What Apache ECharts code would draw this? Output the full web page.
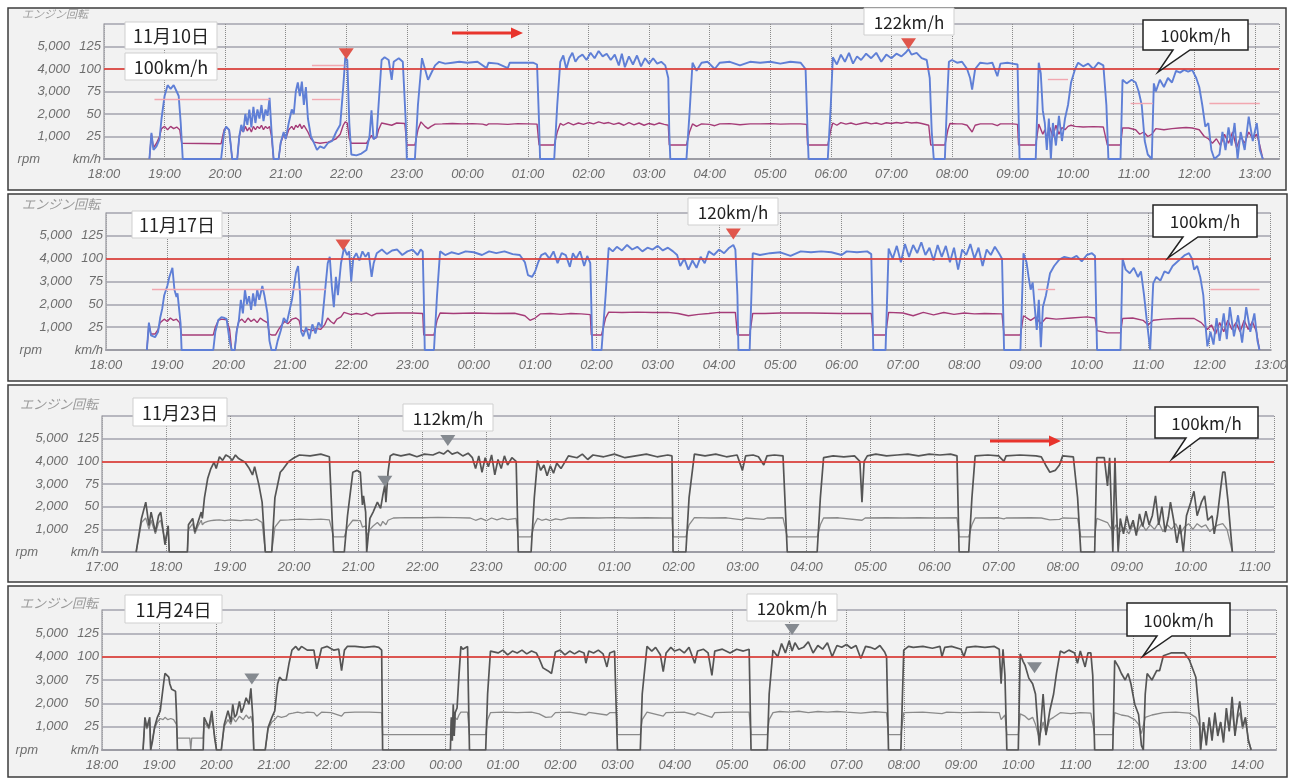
<!DOCTYPE html>
<html><head><meta charset="utf-8">
<script src="https://cdn.jsdelivr.net/npm/echarts/dist/echarts.min.js"></script>
<style>html,body{margin:0;padding:0;background:#fff}#c{width:1290px;height:778px}</style>
</head><body><div id="c"></div>
<script>
// ---------- DATA (time "HH:MM", km/h or rpm) ----------
const dates = ['11月10日', '11月17日', '11月23日', '11月24日'];
const startHours = [18, 18, 17, 18];
const endHours = [37.4, 37, 35.3, 38.5];
const kmhTicks = [0, 25, 50, 75, 100, 125, 150];
const rpmTicks = [0, 1000, 2000, 3000, 4000, 5000, 6000];
const limitSpeed = 100;

const sp1 = [['18:45',0],['18:47',29],['18:49',10],['18:52',14],['18:55',22],['18:57',45],['19:00',70],['19:03',82],['19:06',78],['19:09',82],['19:12',75],['19:14',70],['19:16',40],['19:18',0],
['19:56',0],['19:59',30],['20:01',36],['20:04',32],['20:07',0],['20:12',0],['20:14',25],['20:16',38],['20:18',30],['20:20',50],['20:22',38],['20:24',55],['20:26',35],['20:28',58],['20:30',40],['20:32',55],['20:34',45],['20:36',60],['20:38',42],['20:40',55],['20:42',48],['20:44',68],['20:46',30],['20:48',0],
['20:53',0],['20:55',18],['20:58',30],['21:00',22],['21:03',40],['21:06',55],['21:08',50],['21:10',75],['21:12',85],['21:14',70],['21:16',86],['21:18',60],['21:20',80],['21:22',45],['21:25',25],['21:28',18],['21:31',10],['21:34',14],['21:38',12],['21:42',18],['21:46',20],['21:50',30],['21:54',38],['21:57',80],['21:59',113],['22:01',110],['22:03',40],['22:05',5],['22:10',4],['22:15',6],['22:20',10],['22:23',25],['22:25',54],['22:27',22],['22:30',25],['22:32',60],['22:35',110],['22:38',113],['22:42',110],['22:45',88],['22:47',108],['22:52',112],['22:56',108],['22:59',40],['23:00',0],
['23:08',0],['23:11',60],['23:15',112],['23:18',100],['23:21',88],['23:24',95],['23:28',104],['23:32',108],['23:38',106],['23:45',107],['23:52',108],['00:00',107],['00:10',108],['00:19',101],['00:21',107],['00:30',106],['00:40',101],['00:42',107],['00:50',107],['00:57',107],['01:05',107],['01:09',105],['01:11',40],['01:12',0],
['01:26',0],['01:29',60],['01:32',108],['01:35',115],['01:38',100],['01:41',112],['01:44',118],['01:47',108],['01:50',113],['01:54',116],['01:58',110],['02:02',118],['02:06',112],['02:10',120],['02:14',114],['02:18',117],['02:22',110],['02:26',116],['02:30',104],['02:33',117],['02:36',102],['02:40',114],['02:44',105],['02:48',115],['02:52',103],['02:56',112],['03:00',106],['03:04',112],['03:08',106],['03:12',108],['03:16',104],['03:19',90],['03:20',30],['03:21',0],
['03:37',0],['03:40',50],['03:43',107],['03:47',98],['03:52',107],['03:58',108],['04:05',100],['04:10',107],['04:20',108],['04:30',104],['04:40',108],['04:50',107],['05:00',108],['05:10',106],['05:20',108],['05:30',107],['05:35',100],['05:37',30],['05:38',0],
['05:57',0],['06:00',60],['06:02',113],['06:06',105],['06:10',116],['06:14',108],['06:18',118],['06:22',106],['06:26',114],['06:30',110],['06:35',117],['06:40',112],['06:45',118],['06:50',108],['06:55',116],['07:00',112],['07:05',117],['07:10',114],['07:14',118],['07:17',122],['07:20',116],['07:25',118],['07:30',112],['07:35',110],['07:38',90],['07:40',30],['07:42',0],
['07:53',0],['07:55',60],['07:57',108],['08:00',110],['08:05',107],['08:10',108],['08:15',100],['08:18',90],['08:20',77],['08:23',100],['08:28',107],['08:35',106],['08:40',107],['08:45',92],['08:48',106],['08:55',107],['09:00',106],['09:05',105],['09:06',50],['09:07',0],
['09:23',0],['09:26',107],['09:28',95],['09:30',54],['09:32',40],['09:34',10],['09:36',45],['09:38',0],['09:40',40],['09:43',15],['09:46',48],['09:49',20],['09:52',45],['09:55',60],['09:58',85],['10:02',100],['10:05',107],['10:10',103],['10:15',106],['10:20',100],['10:25',107],['10:30',104],['10:33',60],['10:35',0],
['10:47',0],['10:49',88],['10:53',84],['10:58',88],['11:02',85],['11:05',75],['11:08',60],['11:11',20],['11:14',5],['11:18',0],['11:20',84],['11:22',75],['11:26',88],['11:30',80],['11:34',90],['11:38',85],['11:42',98],['11:46',96],['11:50',99],['11:54',97],['11:58',99],['12:02',90],['12:05',80],['12:08',60],['12:11',36],['12:14',40],['12:17',10],['12:20',0],['12:25',5],['12:28',30],['12:31',10],['12:34',35],['12:37',15],['12:40',40],['12:43',0],['12:46',30],['12:50',10],['12:54',47],['12:58',20],['13:02',40],['13:05',10],['13:08',0]];

const rpm1 = [['18:45',0],['18:47',1100],['18:49',500],['18:52',700],['18:55',1000],['18:57',1350],['19:00',1450],['19:03',1300],['19:06',1450],['19:09',1350],['19:12',1420],['19:15',1300],['19:17',700],['19:56',680],['19:59',1300],['20:01',1420],['20:04',1300],['20:07',0],['20:12',0],['20:14',1000],['20:16',1350],['20:18',1200],['20:20',1450],['20:22',1250],['20:24',1400],['20:26',1200],['20:28',1450],['20:30',1300],['20:32',1450],['20:34',1350],['20:36',1500],['20:38',1300],['20:40',1450],['20:42',1350],['20:44',1450],['20:46',1000],['20:48',0],
['20:53',0],['20:55',700],['20:58',1100],['21:00',900],['21:03',1300],['21:06',1450],['21:08',1300],['21:10',1500],['21:12',1400],['21:14',1550],['21:16',1350],['21:18',1500],['21:20',1350],['21:22',1200],['21:25',900],['21:28',750],['21:34',700],['21:42',750],['21:50',900],['21:54',1100],['21:57',1500],['21:59',1650],['22:01',1600],['22:03',900],['22:05',700],['22:20',700],['22:23',900],['22:25',1050],['22:27',900],['22:30',950],['22:32',1300],['22:35',1600],['22:45',1500],['22:50',1600],['22:58',1580],['23:00',620],
['23:08',620],['23:11',1300],['23:14',1650],['23:18',1450],['23:21',1350],['23:24',1450],['23:28',1550],['23:35',1560],['23:45',1580],['23:55',1560],['00:05',1570],['00:15',1550],['00:19',1500],['00:21',1560],['00:30',1560],['00:40',1540],['00:50',1570],['01:00',1560],['01:09',1550],['01:11',620],
['01:26',620],['01:29',1200],['01:32',1580],['01:35',1500],['01:40',1620],['01:45',1520],['01:50',1600],['01:55',1540],['02:00',1620],['02:05',1560],['02:10',1650],['02:15',1580],['02:20',1620],['02:25',1540],['02:30',1600],['02:35',1500],['02:40',1620],['02:45',1520],['02:50',1600],['02:55',1500],['03:00',1580],['03:05',1520],['03:10',1600],['03:15',1540],['03:19',1500],['03:20',620],
['03:37',620],['03:40',1200],['03:43',1560],['03:47',1450],['03:52',1560],['04:00',1540],['04:05',1480],['04:10',1560],['04:20',1570],['04:30',1520],['04:40',1560],['04:50',1560],['05:00',1570],['05:10',1550],['05:20',1560],['05:30',1560],['05:36',1540],['05:37',620],
['05:57',620],['06:00',1300],['06:02',1600],['06:06',1500],['06:10',1620],['06:15',1550],['06:20',1600],['06:25',1530],['06:30',1580],['06:35',1620],['06:40',1560],['06:45',1600],['06:50',1540],['06:55',1610],['07:00',1580],['07:05',1620],['07:10',1590],['07:15',1640],['07:20',1600],['07:25',1620],['07:30',1580],['07:37',1500],['07:39',620],
['07:53',620],['07:56',1300],['07:58',1580],['08:05',1560],['08:10',1560],['08:15',1500],['08:20',1200],['08:23',1500],['08:28',1560],['08:40',1560],['08:45',1480],['08:48',1560],['09:00',1560],['09:05',1540],['09:06',620],
['09:23',620],['09:26',1550],['09:30',1100],['09:32',1300],['09:34',900],['09:37',1400],['09:40',1000],['09:43',1500],['09:46',1100],['09:49',1400],['09:52',1300],['09:55',1450],['09:58',1500],['10:02',1450],['10:10',1420],['10:20',1440],['10:30',1420],['10:34',620],
['10:47',620],['10:49',1380],['10:55',1380],['11:02',1300],['11:06',1100],['11:10',1200],['11:14',1000],['11:18',1100],['11:22',1350],['11:30',1300],['11:38',1350],['11:45',1380],['11:52',1400],['11:58',1380],['12:05',1300],['12:10',1000],['12:14',900],['12:18',700],['12:22',900],['12:26',600],['12:30',1100],['12:34',700],['12:38',1200],['12:42',500],['12:46',1000],['12:50',700],['12:54',1200],['12:58',900],['13:02',1100],['13:05',600],['13:08',0]];

const sp2 = [['18:40',0],['18:42',30],['18:44',16],['18:48',14],['18:51',20],['18:53',35],['18:55',45],['18:57',60],['19:00',70],['19:02',80],['19:05',90],['19:07',66],['19:09',58],['19:10',62],['19:12',40],['19:13',29],['19:14',0],
['19:45',0],['19:47',20],['19:50',33],['19:53',36],['19:56',35],['19:58',34],['20:01',10],['20:03',0],['20:06',0],['20:08',21],['20:10',32],['20:12',55],['20:14',40],['20:16',66],['20:18',50],['20:20',59],['20:22',44],['20:24',62],['20:26',48],['20:28',66],['20:30',55],['20:33',70],['20:35',60],['20:38',40],['20:40',10],['20:42',0],
['20:46',0],['20:48',10],['20:51',21],['20:54',35],['20:57',30],['21:00',45],['21:02',55],['21:04',70],['21:06',85],['21:08',92],['21:10',60],['21:11',20],['21:13',15],['21:16',25],['21:19',12],['21:22',28],['21:25',18],['21:28',30],['21:31',25],['21:34',60],['21:37',95],['21:39',102],['21:41',70],['21:43',47],['21:45',80],['21:47',60],['21:50',95],['21:53',112],['21:56',104],['21:58',108],['22:00',75],['22:02',100],['22:05',106],['22:08',98],['22:11',108],['22:14',102],['22:17',107],['22:20',80],['22:22',95],['22:25',106],['22:30',110],['22:35',105],['22:40',109],['22:45',110],['22:50',104],['22:55',108],['23:00',110],['23:05',104],['23:08',110],['23:10',108],['23:11',60],['23:12',0],
['23:21',0],['23:24',60],['23:27',108],['23:32',104],['23:38',107],['23:45',105],['23:52',108],['00:00',107],['00:08',104],['00:15',108],['00:22',106],['00:30',108],['00:38',105],['00:45',104],['00:50',96],['00:53',82],['00:57',80],['01:00',86],['01:03',96],['01:06',104],['01:10',106],['01:14',100],['01:18',108],['01:22',95],['01:26',106],['01:30',104],['01:34',91],['01:37',106],['01:40',100],['01:44',108],['01:48',92],['01:51',103],['01:54',95],['01:55',50],['01:56',0],
['02:05',0],['02:09',60],['02:12',112],['02:16',108],['02:20',113],['02:25',109],['02:30',115],['02:35',110],['02:40',113],['02:45',108],['02:50',112],['02:55',110],['03:00',114],['03:05',109],['03:10',112],['03:15',108],['03:19',104],['03:22',92],['03:26',100],['03:30',88],['03:34',98],['03:38',90],['03:42',102],['03:46',95],['03:50',108],['03:55',104],['04:00',110],['04:05',106],['04:10',112],['04:14',115],['04:16',110],['04:18',60],['04:19',0],
['04:30',0],['04:33',106],['04:40',104],['04:50',106],['05:00',107],['05:10',103],['05:20',108],['05:30',107],['05:40',108],['05:50',107],['06:00',104],['06:05',108],['06:15',107],['06:25',108],['06:29',105],['06:31',0],
['06:43',0],['06:46',111],['06:50',100],['06:54',114],['06:58',96],['07:02',116],['07:06',102],['07:10',115],['07:14',106],['07:18',118],['07:22',104],['07:26',112],['07:30',98],['07:34',115],['07:38',102],['07:42',114],['07:46',96],['07:50',112],['07:54',88],['07:58',110],['08:02',104],['08:06',116],['08:10',100],['08:14',112],['08:18',92],['08:22',110],['08:26',104],['08:30',113],['08:34',106],['08:37',100],['08:39',0],
['08:55',0],['08:58',106],['09:01',96],['09:03',80],['09:05',66],['09:07',74],['09:09',47],['09:11',22],['09:13',55],['09:15',3],['09:17',47],['09:20',60],['09:24',84],['09:28',92],['09:33',99],['09:38',102],['09:45',100],['09:50',103],['09:55',97],['10:00',104],['10:05',106],['10:08',103],['10:10',0],
['10:33',0],['10:35',100],['10:38',88],['10:42',84],['10:46',90],['10:50',80],['10:53',86],['10:56',60],['10:59',29],['11:02',0],['11:05',73],['11:08',80],['11:12',76],['11:16',86],['11:20',84],['11:24',92],['11:28',96],['11:32',100],['11:36',104],['11:40',106],['11:43',100],['11:45',88],['11:48',92],['11:51',80],['11:54',60],['11:56',29],['11:58',4],['12:01',20],['12:04',6],['12:07',35],['12:10',10],['12:14',40],['12:17',12],['12:20',47],['12:24',15],['12:28',38],['12:32',8],['12:36',47],['12:40',20],['12:44',40],['12:47',10],['12:49',0]];

const rpm2 = [['18:40',0],['18:42',1150],['18:44',700],['18:48',700],['18:51',900],['18:53',1200],['18:57',1350],['19:00',1250],['19:03',1400],['19:06',1300],['19:09',1350],['19:12',1200],['19:14',660],['19:45',660],['19:47',1000],['19:50',1300],['19:53',1350],['19:58',1320],['20:01',900],['20:03',0],['20:06',0],['20:08',900],['20:10',1250],['20:13',1350],['20:16',1200],['20:19',1400],['20:22',1250],['20:25',1350],['20:28',1200],['20:31',1400],['20:34',1300],['20:38',1200],['20:40',700],['20:42',660],['20:46',660],['20:49',900],['20:52',1100],['20:55',1250],['20:58',1150],['21:02',1350],['21:06',1400],['21:09',1300],['21:11',900],['21:14',800],['21:18',900],['21:22',850],['21:26',950],['21:30',900],['21:34',1100],['21:37',1400],['21:40',1250],['21:43',1150],['21:46',1350],['21:50',1450],['21:53',1650],['22:00',1550],['22:05',1600],['22:10',1560],['22:15',1620],['22:20',1500],['22:25',1600],['22:35',1610],['22:45',1620],['23:00',1620],['23:10',1600],['23:11',660],
['23:21',660],['23:24',1300],['23:27',1620],['23:40',1600],['00:00',1620],['00:20',1600],['00:40',1610],['00:50',1500],['00:55',1300],['01:00',1400],['01:05',1580],['01:15',1600],['01:25',1560],['01:35',1600],['01:45',1580],['01:54',1550],['01:55',660],['02:05',660],['02:09',1400],['02:12',1660],['02:25',1640],['02:40',1660],['02:55',1640],['03:10',1650],['03:20',1600],['03:30',1500],['03:40',1560],['03:50',1600],['04:00',1650],['04:10',1640],['04:16',1650],['04:18',660],['04:30',660],['04:33',1600],['04:45',1600],['05:00',1620],['05:30',1620],['06:00',1600],['06:29',1600],['06:31',660],['06:43',660],['06:46',1650],['07:00',1620],['07:10',1500],['07:20',1650],['07:30',1540],['07:40',1640],['07:50',1560],['08:00',1620],['08:10',1580],['08:20',1600],['08:37',1580],['08:39',660],
['08:55',660],['08:58',1500],['09:05',1300],['09:10',1450],['09:15',1150],['09:20',1400],['09:30',1350],['09:45',1400],['10:00',1450],['10:08',1400],['10:10',850],['10:20',750],['10:33',750],['10:35',1380],['10:45',1400],['10:55',1300],['11:00',1100],['11:05',1300],['11:15',1350],['11:30',1380],['11:45',1380],['11:52',1200],['11:58',900],['12:02',1100],['12:06',700],['12:10',1200],['12:14',800],['12:18',1300],['12:22',900],['12:26',1200],['12:30',800],['12:34',1300],['12:38',900],['12:42',1250],['12:46',800],['12:49',0]];

const sp3 = [['17:32',0],['17:37',37],['17:41',55],['17:44',29],['17:46',44],['17:50',22],['17:53',40],['17:55',44],['17:59',8],['18:02',29],['18:03',0],
['18:20',0],['18:21',30],['18:25',37],['18:27',22],['18:30',33],['18:33',44],['18:34',37],['18:36',60],['18:39',81],['18:42',92],['18:45',99],['18:47',92],['18:50',105],['18:53',101],['18:56',107],['18:59',105],['19:02',101],['19:05',107],['19:08',103],['19:14',99],['19:18',92],['19:21',85],['19:23',94],['19:27',74],['19:30',55],['19:33',0],
['19:39',0],['19:42',60],['19:47',88],['19:50',92],['19:55',100],['20:00',104],['20:05',107],['20:15',106],['20:25',108],['20:33',105],['20:37',0],
['20:47',0],['20:50',40],['20:55',88],['20:59',90],['21:02',88],['21:04',52],['21:05',62],['21:07',44],['21:08',0],['21:11',37],['21:14',44],['21:18',55],['21:21',48],['21:23',62],['21:25',74],['21:26',55],['21:28',88],['21:30',106],['21:33',108],['21:40',106],['21:48',108],['21:55',105],['22:02',108],['22:10',107],['22:16',110],['22:20',108],['22:24',112],['22:28',108],['22:33',110],['22:38',106],['22:43',109],['22:47',104],['22:50',92],['22:53',106],['22:56',88],['22:59',104],['23:02',94],['23:05',107],['23:08',85],['23:11',102],['23:14',92],['23:17',106],['23:20',96],['23:24',104],['23:28',100],['23:30',0],
['23:42',0],['23:45',60],['23:48',101],['23:51',90],['23:54',96],['23:57',84],['00:00',95],['00:03',87],['00:06',98],['00:10',92],['00:14',100],['00:17',106],['00:25',104],['00:30',108],['00:35',102],['00:40',107],['00:50',105],['01:00',108],['01:10',104],['01:20',106],['01:30',108],['01:40',105],['01:50',107],['01:54',106],['01:55',0],
['02:07',0],['02:10',60],['02:15',108],['02:25',106],['02:35',108],['02:45',105],['02:55',107],['03:00',90],['03:03',106],['03:10',107],['03:15',105],['03:20',96],['03:23',106],['03:30',107],['03:38',106],['03:42',0],
['04:10',0],['04:13',60],['04:16',104],['04:25',106],['04:35',105],['04:45',106],['04:50',100],['04:52',55],['04:54',100],['04:57',106],['05:05',108],['05:15',106],['05:25',107],['05:35',108],['05:45',106],['05:55',108],['06:05',107],['06:15',108],['06:21',106],['06:23',0],
['06:32',0],['06:35',60],['06:38',106],['06:50',107],['07:00',106],['07:05',100],['07:07',106],['07:20',107],['07:35',106],['07:40',105],['07:44',96],['07:48',88],['07:53',90],['07:57',96],['08:00',106],['08:10',105],['08:14',60],['08:17',0],
['08:30',0],['08:32',104],['08:35',104],['08:39',104],['08:42',73],['08:44',104],['08:47',0],['08:49',104],['08:50',62],['08:52',0],['08:54',37],['08:57',20],['09:00',40],['09:03',25],['09:06',35],['09:09',18],['09:12',42],['09:15',28],['09:18',45],['09:21',30],['09:24',40],['09:27',62],['09:30',30],['09:33',50],['09:36',22],['09:39',38],['09:41',55],['09:44',35],['09:47',10],['09:50',30],['09:53',0],['09:56',40],['10:00',55],['10:03',67],['10:06',40],['10:10',55],['10:13',62],['10:16',35],['10:20',40],['10:22',20],['10:25',40],['10:28',70],['10:30',88],['10:32',88],['10:35',55],['10:39',0]];

const rpm3 = [['17:32',0],['17:37',1300],['17:41',1500],['17:44',1000],['17:46',1400],['17:50',800],['17:53',1300],['17:55',1400],['17:59',500],['18:02',1000],['18:03',0],
['18:20',0],['18:21',1000],['18:25',1250],['18:27',800],['18:30',1150],['18:33',1400],['18:34',1200],['18:36',1300],['18:39',1350],['18:42',1380],['18:45',1400],['18:50',1420],['18:55',1380],['19:00',1420],['19:05',1400],['19:10',1380],['19:15',1420],['19:20',1400],['19:25',1450],['19:30',1300],['19:33',0],
['19:39',0],['19:42',1100],['19:47',1400],['19:55',1420],['20:05',1450],['20:15',1430],['20:25',1450],['20:33',1420],['20:37',670],['20:47',670],['20:50',1100],['20:55',1400],['21:02',1380],['21:04',1100],['21:07',1150],['21:08',700],['21:11',1000],['21:14',1150],['21:18',1300],['21:21',1150],['21:23',1350],['21:26',1200],['21:28',1400],['21:33',1500],['21:45',1520],['22:00',1510],['22:15',1530],['22:30',1520],['22:45',1500],['22:50',1400],['22:55',1480],['23:00',1380],['23:05',1500],['23:10',1420],['23:15',1490],['23:20',1430],['23:28',1480],['23:30',670],
['23:42',670],['23:45',1200],['23:48',1480],['23:52',1400],['23:56',1450],['00:00',1380],['00:05',1460],['00:10',1420],['00:17',1500],['00:30',1510],['00:45',1500],['01:00',1520],['01:15',1500],['01:30',1510],['01:45',1500],['01:54',1500],['01:55',670],['02:07',670],['02:10',1200],['02:15',1520],['02:30',1500],['02:45',1510],['03:00',1420],['03:03',1500],['03:20',1440],['03:23',1500],['03:38',1510],['03:42',670],
['04:10',670],['04:13',1200],['04:16',1500],['04:30',1510],['04:52',1400],['04:55',1500],['05:15',1510],['05:30',1500],['05:45',1510],['06:00',1500],['06:21',1510],['06:23',670],['06:32',670],['06:35',1200],['06:38',1500],['07:00',1510],['07:05',1460],['07:07',1500],['07:30',1510],['07:40',1500],['07:48',1420],['07:57',1440],['08:00',1500],['08:14',1480],['08:17',670],
['08:30',670],['08:32',1480],['08:42',1300],['08:47',900],['08:50',1200],['08:54',900],['08:58',1100],['09:02',800],['09:06',1200],['09:10',900],['09:14',1250],['09:18',950],['09:22',1200],['09:26',1000],['09:30',1300],['09:34',900],['09:38',1200],['09:42',1000],['09:46',1250],['09:50',800],['09:54',1100],['09:58',1250],['10:02',1000],['10:06',1250],['10:10',1100],['10:14',1200],['10:18',900],['10:22',1100],['10:26',1200],['10:30',1250],['10:34',1000],['10:39',0]];

const sp4 = [['18:43',0],['18:45',35],['18:47',24],['18:50',35],['18:51',0],['18:53',10],['18:55',24],['18:58',35],['19:01',42],['19:05',75],['19:06',82],['19:08',80],['19:10',78],['19:11',71],['19:13',65],['19:17',63],['19:18',40],['19:19',0],
['19:46',0],['19:47',35],['19:52',24],['19:55',42],['19:58',13],['20:00',0],['20:05',0],['20:08',27],['20:12',42],['20:15',30],['20:17',49],['20:19',35],['20:21',38],['20:24',52],['20:26',40],['20:28',45],['20:31',56],['20:34',49],['20:36',66],['20:38',35],['20:39',0],
['20:51',0],['20:54',24],['20:58',35],['21:01',42],['21:04',71],['21:06',78],['21:09',75],['21:13',75],['21:16',93],['21:19',107],['21:23',111],['21:26',107],['21:29',111],['21:35',107],['21:42',107],['21:45',87],['21:50',109],['21:56',111],['22:03',107],['22:08',108],['22:11',85],['22:14',107],['22:17',111],['22:25',111],['22:35',110],['22:45',111],['22:50',110],['22:53',107],['22:54',0],
['00:05',0],['00:06',35],['00:07',10],['00:08',49],['00:09',15],['00:10',40],['00:12',45],['00:14',80],['00:16',111],['00:18',108],['00:20',110],['00:23',111],['00:25',0],
['00:42',0],['00:44',60],['00:47',106],['00:55',104],['01:00',107],['01:05',102],['01:10',106],['01:15',104],['01:20',107],['01:25',103],['01:30',106],['01:35',104],['01:38',98],['01:42',88],['01:47',85],['01:51',82],['01:55',105],['02:00',107],['02:05',102],['02:10',106],['02:15',103],['02:20',106],['02:25',104],['02:27',93],['02:30',106],['02:35',104],['02:40',107],['02:45',103],['02:49',89],['02:52',104],['02:57',106],['03:00',0],
['03:24',0],['03:26',60],['03:31',111],['03:36',106],['03:40',110],['03:45',102],['03:48',84],['03:51',104],['03:56',110],['04:00',106],['04:05',108],['04:10',104],['04:15',110],['04:21',93],['04:24',106],['04:30',108],['04:35',104],['04:39',80],['04:42',106],['04:50',108],['04:58',104],['05:05',108],['05:12',106],['05:18',108],['05:20',0],
['05:37',0],['05:39',60],['05:43',107],['05:48',100],['05:52',114],['05:56',104],['06:00',117],['06:03',106],['06:06',115],['06:10',108],['06:15',110],['06:20',116],['06:25',104],['06:30',112],['06:35',108],['06:40',115],['06:45',100],['06:50',112],['06:55',110],['07:00',113],['07:05',109],['07:10',112],['07:15',98],['07:20',111],['07:25',110],['07:30',108],['07:35',112],['07:40',105],['07:42',100],['07:44',0],
['07:57',0],['08:00',107],['08:05',111],['08:10',110],['08:20',111],['08:30',109],['08:38',111],['08:40',100],['08:43',110],['08:50',111],['09:00',108],['09:03',100],['09:06',110],['09:15',111],['09:25',110],['09:35',111],['09:40',108],['09:42',71],['09:44',108],['09:46',80],['09:48',0],
['10:00',0],['10:02',103],['10:05',95],['10:07',91],['10:11',77],['10:15',71],['10:18',60],['10:22',5],['10:26',60],['10:29',16],['10:33',42],['10:37',60],['10:40',82],['10:44',106],['10:48',104],['10:53',107],['10:59',104],['11:02',93],['11:05',106],['11:10',89],['11:13',104],['11:16',104],['11:18',80],['11:20',0],
['11:39',0],['11:41',96],['11:45',89],['11:48',82],['11:52',75],['11:55',82],['11:58',71],['12:02',49],['12:06',38],['12:09',5],['12:11',0],['12:13',60],['12:15',82],['12:20',75],['12:25',85],['12:28',85],['12:32',101],['12:40',104],['12:48',104],['12:54',104],['12:59',97],['13:02',89],['13:06',78],['13:10',32],['13:11',0],['13:14',30],['13:17',5],['13:20',35],['13:23',10],['13:26',40],['13:29',15],['13:32',30],['13:35',8],['13:38',45],['13:41',20],['13:44',57],['13:47',15],['13:50',40],['13:52',52],['13:55',25],['13:58',35],['14:01',10],['14:04',0]];

const rpm4 = [['18:43',0],['18:45',1200],['18:47',900],['18:50',1200],['18:51',0],['18:53',500],['18:55',900],['18:58',1200],['19:01',1350],['19:04',1300],['19:06',1400],['19:09',1300],['19:12',1350],['19:15',1300],['19:18',1100],['19:19',510],['19:32',510],['19:33',0],['19:34',510],['19:46',510],['19:47',1200],['19:52',900],['19:55',1350],['19:58',600],['20:00',0],['20:05',0],['20:08',1000],['20:12',1300],['20:15',1100],['20:17',1400],['20:20',1200],['20:24',1450],['20:28',1300],['20:31',1500],['20:34',1350],['20:36',1450],['20:38',1100],['20:39',0],
['20:51',0],['20:54',900],['20:58',1200],['21:01',1300],['21:04',1450],['21:08',1400],['21:13',1450],['21:16',1550],['21:20',1580],['21:25',1620],['21:30',1580],['21:35',1620],['21:42',1600],['21:45',1450],['21:50',1620],['22:00',1600],['22:11',1450],['22:14',1600],['22:25',1620],['22:40',1620],['22:53',1600],['22:54',660],['00:05',660],['00:06',1300],['00:07',500],['00:08',1500],['00:09',700],['00:10',1400],['00:12',1300],['00:14',1500],['00:16',1620],['00:23',1620],['00:25',660],
['00:42',660],['00:44',1300],['00:47',1600],['01:00',1620],['01:15',1600],['01:30',1620],['01:38',1550],['01:45',1400],['01:51',1420],['01:55',1600],['02:10',1620],['02:27',1500],['02:30',1610],['02:49',1500],['02:52',1600],['02:59',1600],['03:00',660],['03:24',660],['03:26',1300],['03:31',1620],['03:48',1450],['03:51',1600],['04:10',1620],['04:21',1500],['04:24',1600],['04:39',1400],['04:42',1600],['05:00',1620],['05:18',1620],['05:20',660],
['05:37',660],['05:39',1300],['05:43',1600],['05:50',1650],['06:00',1620],['06:10',1660],['06:20',1600],['06:30',1650],['06:40',1620],['06:50',1650],['07:00',1620],['07:15',1580],['07:30',1640],['07:42',1600],['07:44',660],['07:57',660],['08:00',1600],['08:20',1620],['08:40',1560],['08:45',1620],['09:00',1600],['09:20',1620],['09:40',1600],['09:42',1300],['09:46',1500],['09:48',660],
['10:00',660],['10:02',1550],['10:07',1450],['10:11',1300],['10:15',1400],['10:18',1100],['10:22',500],['10:26',1200],['10:29',700],['10:33',1300],['10:37',1400],['10:44',1600],['10:55',1560],['11:05',1600],['11:16',1580],['11:20',660],['11:39',660],['11:41',1600],['11:48',1500],['11:55',1450],['12:02',1300],['12:06',1100],['12:09',700],['12:11',660],['12:13',1400],['12:20',1500],['12:32',1600],['12:45',1620],['12:59',1580],['13:06',1400],['13:10',1000],['13:11',0],['13:14',1200],['13:17',400],['13:20',1300],['13:23',600],['13:26',1400],['13:29',700],['13:32',1200],['13:35',500],['13:38',1500],['13:41',900],['13:44',1700],['13:47',700],['13:50',1400],['13:52',1600],['13:55',900],['13:58',1300],['14:01',500],['14:04',0]];

// faint pink reference segments: [from, to, km/h]
const lim1 = [['18:50','20:44',66],['21:26','21:54',66],['21:26','21:58',104],['09:35','09:55',89],['10:57','11:19',62],['12:15','13:05',62]];
const lim2 = [['18:45','21:35',66],['09:12','09:29',66],['12:01','12:49',66]];
const lim3 = [];
const lim4 = [];

// triangle markers [time, km/h]; peakIdx = which one carries the max-speed label
const tri1 = [['22:00',117],['07:17',128]];
const tri2 = [['21:52',115],['04:14',127]];
const tri3 = [['22:24',123],['21:25',78]];
const tri4 = [['06:03',129],['20:37',76],['10:17',88]];
const peakText = ['122km/h', '120km/h', '112km/h', '120km/h'];
const peakIdx = [1, 1, 0, 0];

// ---------- LAYOUT / STYLE ----------
const layout = [
  {left:104, right:11, top:24, height:135, frame:[8,8,1278,182]},
  {left:106, right:9, top:213, height:137, frame:[8,194,1279,187]},
  {left:102, right:16, top:416, height:136, frame:[8,385,1279,197]},
  {left:102, right:14, top:610, height:140, frame:[8,586,1279,191]}
];
const colorSets = [
  {sp:'#5f7fd6', rpm:'#a53c78', tri:'#e0564c', spw:1.9, rw:1.4},
  {sp:'#5f7fd6', rpm:'#a53c78', tri:'#e0564c', spw:1.9, rw:1.4},
  {sp:'#555555', rpm:'#8a8a8a', tri:'#858a90', spw:1.7, rw:1.3},
  {sp:'#555555', rpm:'#8a8a8a', tri:'#858a90', spw:1.7, rw:1.3}
];
const speeds = [sp1, sp2, sp3, sp4];
const rpms = [rpm1, rpm2, rpm3, rpm4];
const lims = [lim1, lim2, lim3, lim4];
const tris = [tri1, tri2, tri3, tri4];

function toH(s, start) {
  const p = s.split(':'); let v = +p[0] + (+p[1]) / 60;
  if (v < start) v += 24; return v;
}
const pad = n => (n < 10 ? '0' : '') + n;
const labelFont = {color:'#6d6d6d', fontStyle:'italic', fontFamily:'"Liberation Sans", Arial, sans-serif', fontSize:13};

const grids = [], xAxes = [], yAxes = [], series = [];
layout.forEach((L, i) => {
  const st = startHours[i];
  grids.push({left:L.left, right:L.right, top:L.top, height:L.height, containLabel:false});
  xAxes.push({type:'value', gridIndex:i, min:st, max:endHours[i], interval:1,
    axisLine:{show:true, lineStyle:{color:'#9c9ca4', width:2}}, axisTick:{show:false},
    splitLine:{show:true, lineStyle:{color:'#8a8a8a', type:'dotted', width:1}},
    axisLabel:Object.assign({margin:9, formatter: v => Math.abs(v - Math.round(v)) < 1e-6 ? pad(Math.round(v) % 24) + ':00' : ''}, labelFont)});
  yAxes.push({type:'value', gridIndex:i, position:'left', min:kmhTicks[0], max:kmhTicks[kmhTicks.length-1], interval:25,
    axisLine:{show:true, lineStyle:{color:'#a8a8ae', width:1.5}}, axisTick:{show:false},
    splitLine:{show:true, lineStyle:{color:'#a3a3ae', width:1.7}},
    axisLabel:Object.assign({margin:3, formatter: v => v === 0 ? 'km/h' : (v === 150 ? '' : String(v))}, labelFont)});
  yAxes.push({type:'value', gridIndex:i, position:'left', offset:32, min:rpmTicks[0], max:rpmTicks[rpmTicks.length-1], interval:1000,
    axisLine:{show:false}, axisTick:{show:false}, splitLine:{show:false},
    axisLabel:Object.assign({margin:2, formatter: v => v === 0 ? '{u|rpm}' : (v === 6000 ? '' : (v/1000) + ',000'),
      rich:{u:{padding:[0,30,0,0], color:'#6d6d6d', fontStyle:'italic', fontFamily:'"Liberation Sans", Arial, sans-serif', fontSize:13}}}, labelFont)});
  const C = colorSets[i];
  const ml = [{yAxis:limitSpeed, lineStyle:{color:'#e8342c', width:1.7, type:'solid'}}];
  lims[i].forEach(s => ml.push([{coord:[toH(s[0], st), s[2]], lineStyle:{color:'#f2a7b0', width:1.4, type:'solid'}}, {coord:[toH(s[1], st), s[2]]}]));
  series.push({type:'line', name:'speed'+i, xAxisIndex:i, yAxisIndex:2*i, showSymbol:false, z:3,
    lineStyle:{color:C.sp, width:C.spw}, itemStyle:{color:C.sp},
    data: speeds[i].map(d => [toH(d[0], st), d[1]]),
    markLine:{silent:true, symbol:'none', label:{show:false}, data:ml},
    markPoint:{silent:true, symbol:'triangle', symbolRotate:180, symbolSize:[15,11], itemStyle:{color:C.tri}, label:{show:false},
      data: tris[i].map(d => ({coord:[toH(d[0], st), d[1]]}))}});
  series.push({type:'line', name:'rpm'+i, xAxisIndex:i, yAxisIndex:2*i+1, showSymbol:false, z:2,
    lineStyle:{color:C.rpm, width:C.rw}, itemStyle:{color:C.rpm},
    data: rpms[i].map(d => [toH(d[0], st), d[1]])});
});

const chart = echarts.init(document.getElementById('c'));
chart.setOption({animation:false, backgroundColor:'#ffffff', grid:grids, xAxis:xAxes, yAxis:yAxes, series:series});

// ---------- ANNOTATION GRAPHICS ----------
const FONT = '"Noto Sans CJK JP", "Noto Sans", sans-serif';
const G = [];
function textBox(x, y, w, h, text, size, stroke) {
  G.push({type:'group', x:x, y:y, z:100, children:[
    {type:'rect', shape:{x:0, y:0, width:w, height:h}, style:{fill:'#ffffff', stroke:stroke || '#cfcfcf', lineWidth:1}, z:100},
    {type:'text', style:{x:w/2, y:h/2 + 1, text:text, fill:'#222', font:size + 'px ' + FONT, align:'center', verticalAlign:'middle'}, z:101}
  ]});
}
function bubble(x1, y1, x2, y2, tl, tr, tx, ty, text) {
  G.push({type:'polygon', z:100, shape:{points:[[x1,y1],[x2,y1],[x2,y2],[tr,y2],[tx,ty],[tl,y2],[x1,y2]]},
    style:{fill:'#ffffff', stroke:'#222', lineWidth:1.5}});
  G.push({type:'text', z:101, style:{x:(x1+x2)/2, y:(y1+y2)/2 + 1, text:text, fill:'#222', font:'17px ' + FONT, align:'center', verticalAlign:'middle'}});
}
function arrow(x1, x2, y) {
  G.push({type:'line', z:100, shape:{x1:x1, y1:y, x2:x2 - 10, y2:y}, style:{stroke:'#e8342c', lineWidth:3}});
  G.push({type:'polygon', z:100, shape:{points:[[x2 - 12, y - 5.5], [x2, y], [x2 - 12, y + 5.5]]}, style:{fill:'#e8342c'}});
}
// panel frames
layout.forEach(L => {
  const f = L.frame;
  G.push({type:'rect', z:-100, shape:{x:f[0], y:f[1], width:f[2], height:f[3]}, style:{fill:'#f2f2f2', stroke:'#3c3c3c', lineWidth:1.5}});
});
// header "エンジン回転"
[[22, 8, 11], [22, 198, 13], [20, 398, 13], [20, 597, 13]].forEach(h => {
  G.push({type:'text', z:50, style:{x:h[0], y:h[1], text:'エンジン回転', fill:'#9a9a9a', font:'italic ' + h[2] + 'px ' + FONT}});
});
// date boxes
textBox(125, 22, 92, 27, dates[0], 18);
textBox(125, 53, 92, 27, limitSpeed + 'km/h', 18);
textBox(132, 211, 90, 27, dates[1], 18);
textBox(133, 398, 94, 28, dates[2], 18);
textBox(125, 595, 97, 28, dates[3], 18);
// speech bubbles "100km/h"
bubble(1143, 20, 1248, 50, 1173, 1190, 1158, 72, limitSpeed + 'km/h');
bubble(1153, 205, 1257, 237, 1183, 1198, 1168, 258, limitSpeed + 'km/h');
bubble(1155, 407, 1258, 438, 1186, 1200, 1172, 459, limitSpeed + 'km/h');
bubble(1127, 603, 1230, 636, 1157, 1172, 1143, 656, limitSpeed + 'km/h');
// red arrows
arrow(452, 523, 33);
arrow(990, 1061, 441);
// max-speed boxes above the peak triangles (positioned through the chart's scales)
tris.forEach((t, i) => {
  const d = t[peakIdx[i]];
  const p = chart.convertToPixel({seriesIndex:2*i}, [toH(d[0], startHours[i]), d[1]]);
  textBox(Math.round(p[0] - 45), Math.round(p[1] - 36), 90, 27, peakText[i], 17);
});
chart.setOption({graphic:{elements:G}});
</script></body></html>
